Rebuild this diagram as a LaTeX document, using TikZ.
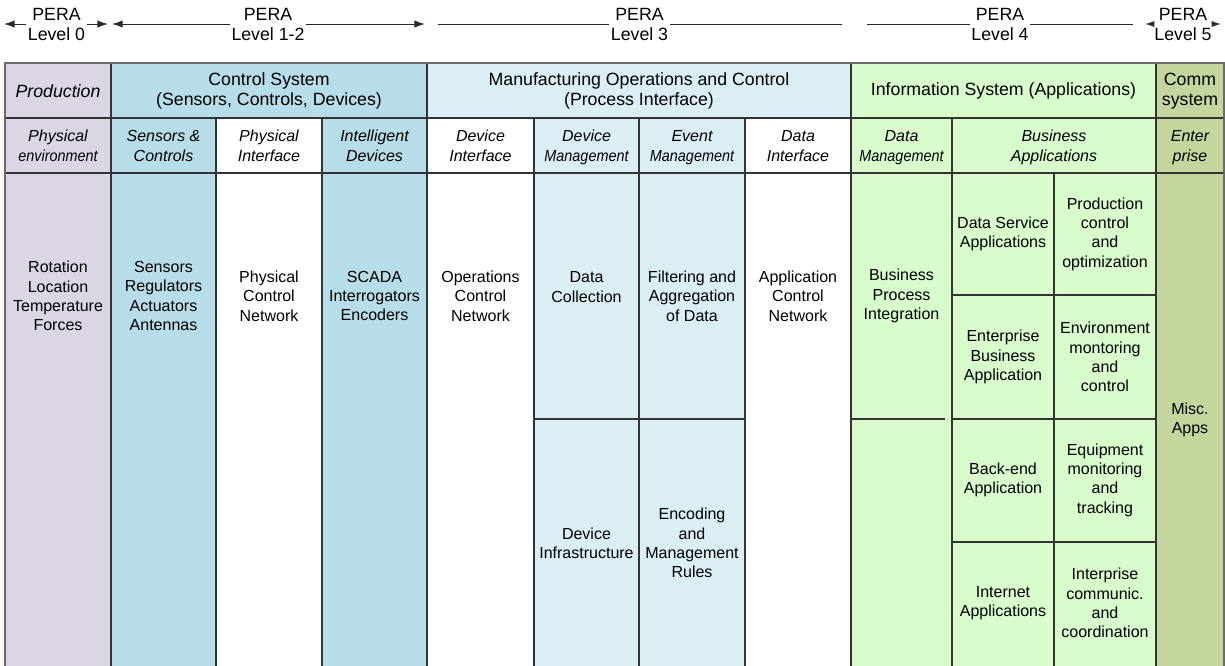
\documentclass[tikz,border=0pt]{standalone}
\usepackage{fontspec}
\setmainfont{Liberation Sans}
\usetikzlibrary{arrows.meta}
\definecolor{prodcol}{HTML}{DCD6E4}
\definecolor{ctrlcol}{HTML}{B7DEE8}
\definecolor{mfgcol}{HTML}{DAEEF3}
\definecolor{infocol}{HTML}{D8FCCB}
\definecolor{commcol}{HTML}{C4D69E}
\definecolor{gridline}{HTML}{333333}
\definecolor{frameline}{HTML}{6A6A6A}
\definecolor{spanline}{HTML}{2A2A2A}
\newcommand{\narrow}[1]{\scalebox{0.9}[1]{#1}}

\begin{document}
\begin{tikzpicture}[x=0.75pt,y=-0.75pt,
  grid/.style={draw=gridline, line width=0.9pt},
  hdr/.style={font=\fontsize{13.3}{15}\selectfont, align=center, inner sep=0pt},
  sub/.style={font=\fontsize{12}{15}\selectfont\itshape, align=center, inner sep=0pt,
              execute at begin node=\strut, execute at end node=\strut},
  txt/.style={font=\fontsize{12}{14.5}\selectfont, align=center, inner sep=0pt},
  pera/.style={font=\fontsize{13.3}{15}\selectfont, align=center, inner xsep=1pt, inner ysep=0pt},
  span/.style={draw=spanline, line width=0.75pt},
  spanarr/.style={span, -{Latex[length=8pt,width=5.5pt]}},
  smallarr/.style={span, -{Latex[length=7pt,width=4.5pt]}}
]
\useasboundingbox (0,0) rectangle (1225,665);
\clip (0,0) rectangle (1225,665);

% ---------- PERA level spans ----------
\node[pera] (p0)  at (56.5,24) {PERA\\Level 0};
\node[pera] (p12) at (268,24)  {PERA\\Level 1-2};
\node[pera] (p3)  at (639.5,24){PERA\\Level 3};
\node[pera] (p4)  at (1000,24) {PERA\\Level 4};
\node[pera] (p5)  at (1183,24) {PERA\\Level 5};
\coordinate (p0l) at (4,24);     \coordinate (p0r) at (108,24);
\coordinate (p12l) at (112,24);  \coordinate (p12r) at (425,24);
\coordinate (p3l) at (438,24);   \coordinate (p3r) at (842,24);
\coordinate (p4l) at (867,24);   \coordinate (p4r) at (1133,24);
\coordinate (p5l) at (1145,24);  \coordinate (p5r) at (1221,24);
\draw[spanarr] (p0.west) -- (p0l);
\draw[spanarr] (p0.east) -- (p0r);
\draw[spanarr] (p12.west) -- (p12l);
\draw[spanarr] (p12.east) -- (p12r);
\draw[span] (p3.west) -- (p3l);
\draw[span] (p3.east) -- (p3r);
\draw[span] (p4.west) -- (p4l);
\draw[span] (p4.east) -- (p4r);
\draw[smallarr] (p5.west) -- (p5l);
\draw[smallarr] (p5.east) -- (p5r);

% ---------- row 1: system groups ----------
\path[grid, fill=prodcol] (5,63) rectangle (111,118);
\path[grid, fill=ctrlcol] (111,63) rectangle (427,118);
\path[grid, fill=mfgcol]  (427,63) rectangle (851,118);
\path[grid, fill=infocol] (851,63) rectangle (1156,118);
\path[grid, fill=commcol] (1156,63) rectangle (1224,118);

% ---------- row 2: functional areas ----------
\path[grid, fill=prodcol] (5,118) rectangle (111,173);
\path[grid, fill=ctrlcol] (111,118) rectangle (216,173);
\path[grid, fill=white]   (216,118) rectangle (322,173);
\path[grid, fill=ctrlcol] (322,118) rectangle (427,173);
\path[grid, fill=white]   (427,118) rectangle (534,173);
\path[grid, fill=mfgcol]  (534,118) rectangle (639,173);
\path[grid, fill=mfgcol]  (639,118) rectangle (745,173);
\path[grid, fill=white]   (745,118) rectangle (851,173);
\path[grid, fill=infocol] (851,118) rectangle (952,173);
\path[grid, fill=infocol] (952,118) rectangle (1156,173);
\path[grid, fill=commcol] (1156,118) rectangle (1224,173);

% ---------- body columns ----------
\path[grid, fill=prodcol] (5,173) rectangle (111,680);
\path[grid, fill=ctrlcol] (111,173) rectangle (216,680);
\path[grid, fill=white]   (216,173) rectangle (322,680);
\path[grid, fill=ctrlcol] (322,173) rectangle (427,680);
\path[grid, fill=white]   (427,173) rectangle (534,680);
\path[grid, fill=mfgcol]  (534,173) rectangle (639,419);
\path[grid, fill=mfgcol]  (534,419) rectangle (639,680);
\path[grid, fill=mfgcol]  (639,173) rectangle (745,419);
\path[grid, fill=mfgcol]  (639,419) rectangle (745,680);
\path[grid, fill=white]   (745,173) rectangle (851,680);
\path[grid, fill=infocol] (851,173) rectangle (952,680);
\draw[grid] (851,419) -- (945,419);
\path[grid, fill=infocol] (952,173) rectangle (1054,295);
\path[grid, fill=infocol] (1054,173) rectangle (1156,295);
\path[grid, fill=infocol] (952,295) rectangle (1054,419);
\path[grid, fill=infocol] (1054,295) rectangle (1156,419);
\path[grid, fill=infocol] (952,419) rectangle (1054,542);
\path[grid, fill=infocol] (1054,419) rectangle (1156,542);
\path[grid, fill=infocol] (952,542) rectangle (1054,680);
\path[grid, fill=infocol] (1054,542) rectangle (1156,680);
\path[grid, fill=commcol] (1156,173) rectangle (1224,680);

% outer frame, lighter and a little heavier
\draw[draw=frameline, line width=1.4pt] (5,680) -- (5,63) -- (1224,63) -- (1224,680);

% ---------- row 1 texts ----------
\node[hdr, font=\fontsize{13.3}{15}\selectfont\itshape] (prod) at (58,91) {Production};
\node[hdr] (ctrl) at (269,91) {Control System\\(Sensors, Controls, Devices)};
\node[hdr] (mfg)  at (639,91) {Manufacturing Operations and Control\\(Process Interface)};
\node[hdr] (info) at (1003.5,91) {Information System (Applications)};
\node[hdr] (comm) at (1190,91) {Comm\\system};

% ---------- row 2 texts ----------
\node[sub] (physenv) at (58,149)   {Physical\\\narrow{environment}};
\node[sub] (sensc)   at (163.5,149){Sensors \&\\Controls};
\node[sub] (physif)  at (269,149)  {Physical\\Interface};
\node[sub] (intdev)  at (374.5,149){Intelligent\\Devices};
\node[sub] (devif)   at (480.5,149){Device\\Interface};
\node[sub] (devmgmt) at (586.5,149){Device\\\narrow{Management}};
\node[sub] (evmgmt)  at (692,149)  {Event\\\narrow{Management}};
\node[sub] (datif)   at (798,149)  {Data\\Interface};
\node[sub] (datmgmt) at (901.5,149){Data\\\narrow{Management}};
\node[sub] (busapp)  at (1054,149) {Business\\Applications};
\node[sub] (entpr)   at (1190,149) {Enter\\prise};

% ---------- body texts ----------
\node[txt] (rot)    at (58,296)    {Rotation\\Location\\Temperature\\Forces};
\node[txt] (sens)   at (163.5,296) {Sensors\\Regulators\\Actuators\\Antennas};
\node[txt] (pcn)    at (269,296)   {Physical\\Control\\Network};
\node[txt] (scada)  at (374.5,296) {SCADA\\Interrogators\\Encoders};
\node[txt] (ocn)    at (480.5,296) {Operations\\Control\\Network};
\node[txt] (dcoll)  at (586.5,287) {Data\\Collection};
\node[txt] (filt)   at (692,296)   {Filtering and\\Aggregation\\of Data};
\node[txt] (acn)    at (798,296)   {Application\\Control\\Network};
\node[txt] (bpi)    at (901.5,296) {Business\\Process\\Integration};
\node[txt] (devinf) at (586.5,543) {Device\\Infrastructure};
\node[txt] (enc)    at (692,543)   {Encoding\\and\\Management\\Rules};
\node[txt] (dsa)    at (1003,234)  {Data Service\\Applications};
\node[txt] (pco)    at (1105,234)  {Production\\control\\and\\optimization};
\node[txt] (eba)    at (1003,357)  {Enterprise\\Business\\Application};
\node[txt] (emc)    at (1105,357)  {Environment\\montoring\\and\\control};
\node[txt] (bea)    at (1003,480)  {Back-end\\Application};
\node[txt] (emt)    at (1105,480)  {Equipment\\monitoring\\and\\tracking};
\node[txt] (ia)     at (1003,603)  {Internet\\Applications};
\node[txt] (icc)    at (1105,603)  {Interprise\\communic.\\and\\coordination};
\node[txt] (misc)   at (1190,420)  {Misc.\\Apps};
\end{tikzpicture}
\end{document}
